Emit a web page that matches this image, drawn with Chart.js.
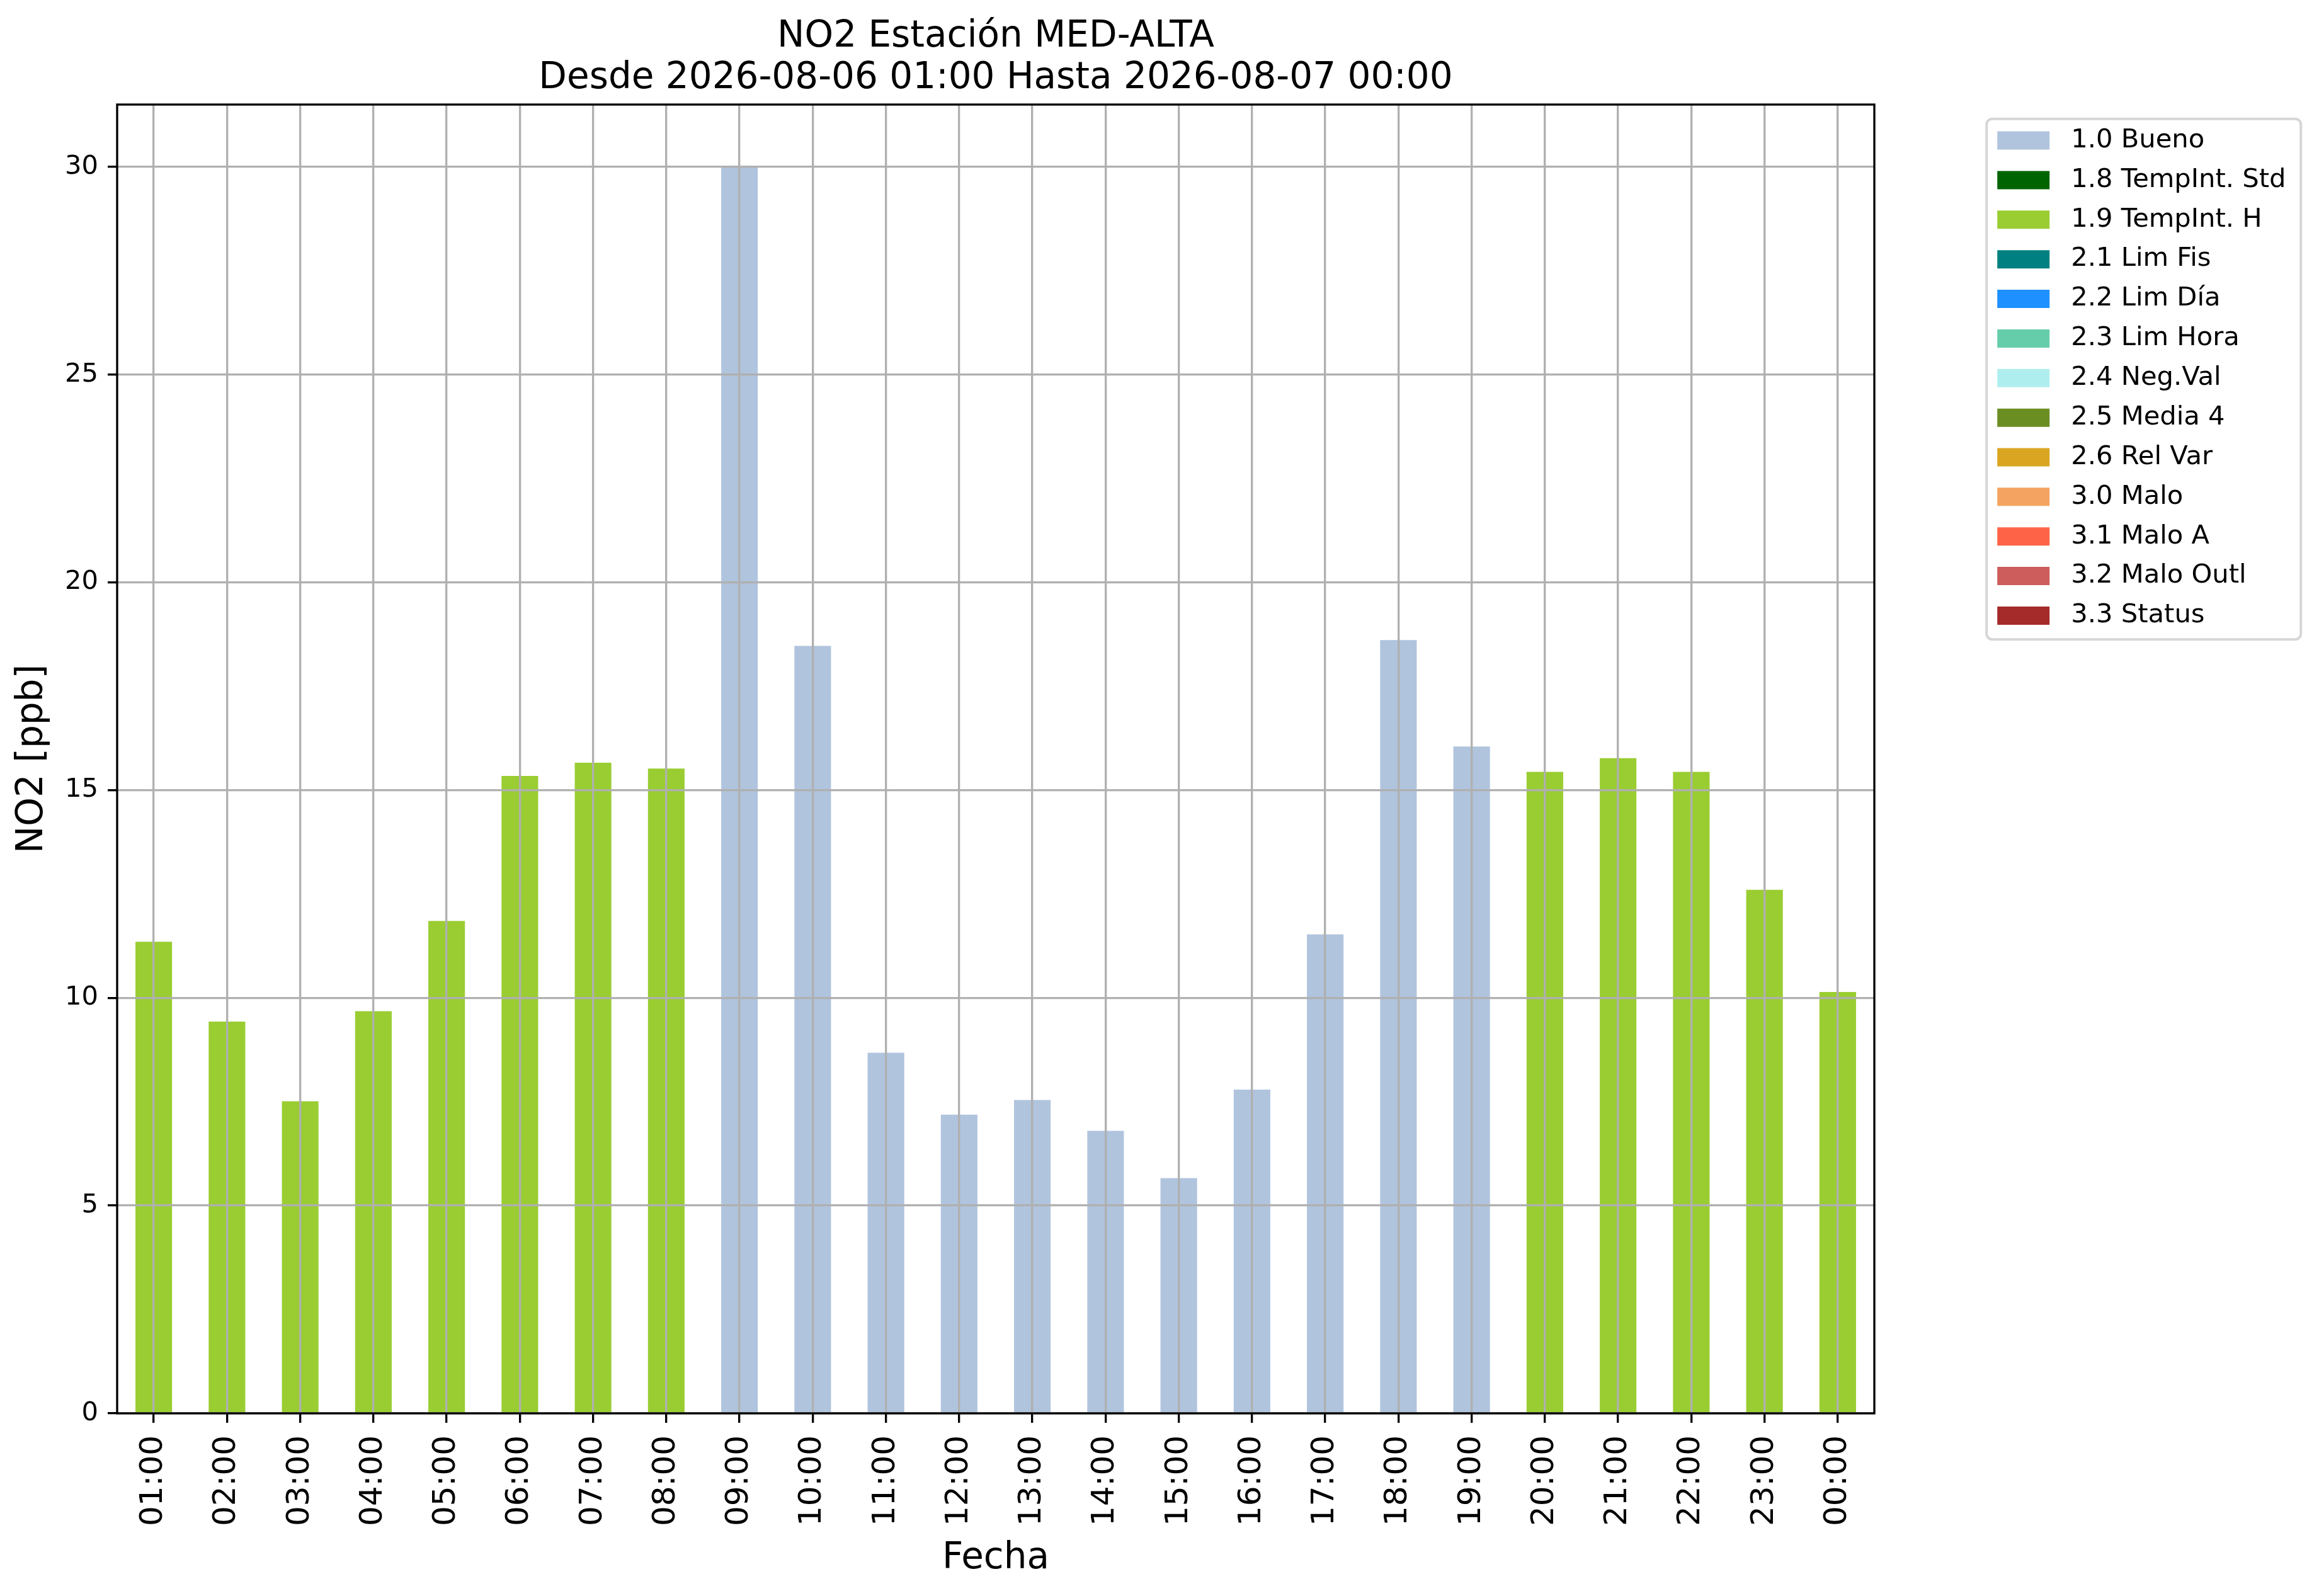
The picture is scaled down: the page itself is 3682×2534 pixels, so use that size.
<!DOCTYPE html>
<html>
<head>
<meta charset="utf-8">
<script src="https://cdn.jsdelivr.net/npm/chart.js"></script>
<style>
  html, body { margin: 0; padding: 0; background: #fff; }
  canvas { display: block; }
</style>
</head>
<body>
<canvas id="chart" width="3682" height="2534" style="width:3682px;height:2534px"></canvas>
<script>
// Horas del día (eje X)
const hours = ['01:00', '02:00', '03:00', '04:00', '05:00', '06:00', '07:00', '08:00',
  '09:00', '10:00', '11:00', '12:00', '13:00', '14:00', '15:00', '16:00',
  '17:00', '18:00', '19:00', '20:00', '21:00', '22:00', '23:00', '00:00'];

// Valores NO2 [ppb]
const no2 = [11.35, 9.43, 7.51, 9.68, 11.85, 15.34, 15.66, 15.52,
  30.0, 18.47, 8.68, 7.19, 7.54, 6.80, 5.66, 7.79,
  11.53, 18.61, 16.05, 15.44, 15.77, 15.44, 12.60, 10.14];

// Flag de validación de cada hora
const hourFlags = ['1.9', '1.9', '1.9', '1.9', '1.9', '1.9', '1.9', '1.9',
  '1.0', '1.0', '1.0', '1.0', '1.0', '1.0', '1.0', '1.0',
  '1.0', '1.0', '1.0', '1.9', '1.9', '1.9', '1.9', '1.9'];

// Leyenda de flags
const flagCodes = ['1.0', '1.8', '1.9', '2.1', '2.2', '2.3', '2.4', '2.5', '2.6', '3.0', '3.1', '3.2', '3.3'];
const flagNames = ['Bueno', 'TempInt. Std', 'TempInt. H', 'Lim Fis', 'Lim Día', 'Lim Hora', 'Neg.Val',
  'Media 4', 'Rel Var', 'Malo', 'Malo A', 'Malo Outl', 'Status'];
const flagColors = ['#b0c4de', '#006400', '#9acd32', '#008080', '#1e90ff', '#66cdaa', '#afeeee',
  '#6b8e23', '#daa520', '#f4a460', '#ff6347', '#cd5c5c', '#a52a2a'];

// Ticks del eje Y
const yTicks = [0, 5, 10, 15, 20, 25, 30];

const FONT = 'DejaVu Sans';
const LW = 3.33;

// Marco negro del área del gráfico + marco de la leyenda
const framePlugin = {
  id: 'frame',
  afterDraw(chart) {
    const ctx = chart.ctx;
    const a = chart.chartArea;
    ctx.save();
    ctx.strokeStyle = '#000';
    ctx.lineWidth = LW;
    ctx.strokeRect(a.left, a.top, a.right - a.left, a.bottom - a.top);

    const hb = chart.legend.legendHitBoxes;
    if (hb && hb.length) {
      const x0 = hb[0].left - 17;
      const y0 = hb[0].top - 13.5;
      const y1 = hb[hb.length - 1].top + 21 + 37.5;
      const x1 = x0 + 499;
      ctx.strokeStyle = '#d6d6d6';
      ctx.lineWidth = 4;
      ctx.beginPath();
      ctx.roundRect(x0, y0, x1 - x0, y1 - y0, 9);
      ctx.stroke();
    }
    ctx.restore();
  }
};

const datasets = flagCodes.map((code, k) => ({
  label: code + ' ' + flagNames[k],
  data: no2.map((v, i) => hourFlags[i] === code ? v : null),
  backgroundColor: flagColors[k],
  borderWidth: 0,
  categoryPercentage: 1.0,
  barPercentage: 0.5
}));

Chart.defaults.color = '#000';
Chart.defaults.font.family = FONT;

new Chart(document.getElementById('chart'), {
  type: 'bar',
  data: { labels: hours, datasets: datasets },
  options: {
    responsive: false,
    devicePixelRatio: 1,
    animation: false,
    layout: { padding: { top: 0, left: 0, right: 52, bottom: 0 } },
    plugins: {
      title: {
        display: true,
        fullSize: false,
        text: ['NO2 Estación MED-ALTA', 'Desde 2026-08-06 01:00 Hasta 2026-08-07 00:00'],
        color: '#000',
        font: { family: FONT, size: 58, weight: 'normal', lineHeight: 66 / 58 },
        padding: { top: 26, bottom: 8 }
      },
      legend: {
        position: 'right',
        align: 'start',
        fullSize: false,
        maxWidth: 480,
        title: { display: true, text: '', padding: 0, font: { size: 15, lineHeight: 1 } },
        labels: {
          boxWidth: 83,
          boxHeight: 29,
          padding: 21.2,
          color: '#000',
          font: { family: FONT, size: 41.67 },
          generateLabels(chart) {
            const items = Chart.defaults.plugins.legend.labels.generateLabels(chart);
            items.forEach(it => { it.text = ' ' + it.text; it.lineWidth = 0; });
            return items;
          }
        }
      },
      tooltip: { enabled: false }
    },
    scales: {
      x: {
        stacked: true,
        offset: true,
        grid: { offset: false, color: '#b0b0b0', lineWidth: LW, z: 1,
          tickColor: '#000', tickWidth: LW, tickLength: 15 },
        border: { display: false },
        ticks: { autoSkip: false, minRotation: 90, maxRotation: 90, padding: 20,
          color: '#000', font: { family: FONT, size: 50 } },
        title: { display: true, text: 'Fecha', color: '#000',
          font: { family: FONT, size: 58 }, padding: { top: 0, bottom: 24 } },
        afterFit(s) { s.height = 290; }
      },
      y: {
        stacked: true,
        min: 0,
        max: 31.5,
        grid: { color: '#b0b0b0', lineWidth: LW, z: 1,
          tickColor: '#000', tickWidth: LW, tickLength: 15 },
        border: { display: false },
        ticks: { includeBounds: false, padding: 15, color: '#000',
          font: { family: FONT, size: 41.67 } },
        afterBuildTicks(s) { s.ticks = yTicks.map(v => ({ value: v })); },
        title: { display: true, text: 'NO2 [ppb]', color: '#000',
          font: { family: FONT, size: 58 }, padding: { top: 17, bottom: 0 } },
        afterFit(s) { s.width = 186; }
      },
      gap: {
        type: 'linear',
        position: 'right',
        display: true,
        grid: { display: false },
        border: { display: false },
        ticks: { display: false },
        afterFit(s) { s.width = 174; }
      }
    }
  },
  plugins: [framePlugin]
});
</script>
</body>
</html>
